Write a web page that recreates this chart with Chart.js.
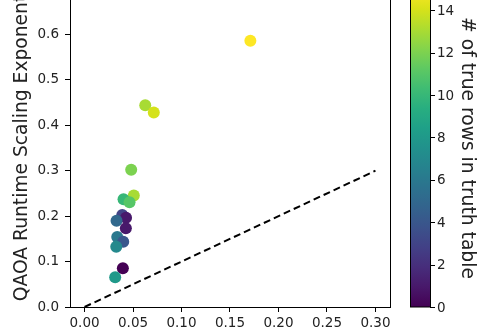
<!DOCTYPE html>
<html lang="en">
  <head>
    <meta charset="UTF-8" />
    <title>QAOA scaling exponent</title>
    <style>
      html, body { margin: 0; padding: 0; background: #fff; }
      #wrap { position: relative; width: 490px; height: 334px; overflow: hidden; }
      #chart { position: absolute; left: 0; top: -30px; }
    </style>
  </head>
  <body>
    <div id="wrap">
      <canvas id="chart" width="490" height="364"></canvas>
    </div>

    <script src="https://cdn.jsdelivr.net/npm/chart.js"></script>
    <script>
      // datos
      var xVals = [0.171, 0.0626, 0.0714, 0.0481, 0.0508, 0.0402, 0.0464, 0.0389,
                   0.0428, 0.0330, 0.0426, 0.0337, 0.0399, 0.0327, 0.0395, 0.0316];
      var yVals = [0.586, 0.444, 0.428, 0.302, 0.2456, 0.2372, 0.2308, 0.2026,
                   0.1965, 0.1901, 0.1733, 0.1542, 0.1438, 0.1328, 0.0852, 0.0654];
      var trueRows = [15, 13, 14, 12, 13, 10, 11, 3, 1, 5, 1, 6, 4, 7, 0, 8];
      var lineX = [0, 0.3];
      var lineY = [0, 0.3];
      var xTicks = [0, 0.05, 0.1, 0.15, 0.2, 0.25, 0.3];
      var yTicks = [0, 0.1, 0.2, 0.3, 0.4, 0.5, 0.6, 0.7];
      var cbTicks = [0, 2, 4, 6, 8, 10, 12, 14];
      var cbMax = 15;

      var viridis = ['#440154', '#48186a', '#472d7b', '#424086', '#3b528b', '#33638d',
                     '#2c728e', '#26828e', '#21918c', '#1fa088', '#28ae80', '#3fbc73',
                     '#5ec962', '#84d44b', '#addc30', '#d8e219', '#fde725'];

      function hexRgb(h) {
        return [parseInt(h.substr(1, 2), 16), parseInt(h.substr(3, 2), 16), parseInt(h.substr(5, 2), 16)];
      }
      function viridisColor(t) {
        t = Math.max(0, Math.min(1, t));
        var f = t * (viridis.length - 1);
        var i = Math.min(Math.floor(f), viridis.length - 2);
        var a = hexRgb(viridis[i]), b = hexRgb(viridis[i + 1]), k = f - i;
        return 'rgb(' + [0, 1, 2].map(function (j) { return Math.round(a[j] + (b[j] - a[j]) * k); }).join(',') + ')';
      }

      var tickFont = { family: 'DejaVu Sans', size: 13.5 };
      var titleFont = { family: 'DejaVu Sans', size: 18.7 };

      // barra de color y borde derecho
      var colorbarPlugin = {
        id: 'colorbar',
        afterDraw: function (chart) {
          var ctx = chart.ctx, area = chart.chartArea;
          ctx.save();
          ctx.strokeStyle = '#000';
          ctx.lineWidth = 1;
          ctx.beginPath();
          ctx.moveTo(area.right + 0.5, area.top);
          ctx.lineTo(area.right + 0.5, area.bottom);
          ctx.stroke();

          var x0 = 410, x1 = 430;
          var grad = ctx.createLinearGradient(0, area.bottom, 0, area.top);
          viridis.forEach(function (c, i) { grad.addColorStop(i / (viridis.length - 1), c); });
          ctx.fillStyle = grad;
          ctx.fillRect(x0, area.top, x1 - x0, area.bottom - area.top);
          ctx.strokeRect(x0 + 0.5, area.top, x1 - x0, area.bottom - area.top);

          ctx.fillStyle = '#222';
          ctx.font = tickFont.size + 'px "DejaVu Sans"';
          ctx.textAlign = 'left';
          ctx.textBaseline = 'middle';
          cbTicks.forEach(function (v) {
            var y = area.bottom - (v / cbMax) * (area.bottom - area.top);
            ctx.beginPath();
            ctx.moveTo(x1, Math.round(y) + 0.5);
            ctx.lineTo(x1 + 5, Math.round(y) + 0.5);
            ctx.stroke();
            ctx.fillText(String(v), x1 + 7, y + 1);
          });

          ctx.translate(467, (area.top + area.bottom) / 2);
          ctx.rotate(Math.PI / 2);
          ctx.textAlign = 'center';
          ctx.font = titleFont.size + 'px "DejaVu Sans"';
          ctx.fillText('# of true rows in truth table', 0, 0);
          ctx.restore();
        }
      };

      var ctx = document.getElementById('chart').getContext('2d');
      var chart = new Chart(ctx, {
        type: 'scatter',
        data: {
          datasets: [{
            label: 'circuits',
            data: xVals.map(function (x, i) { return { x: x, y: yVals[i] }; }),
            pointBackgroundColor: trueRows.map(function (v) { return viridisColor(v / cbMax); }),
            pointBorderWidth: 0,
            pointRadius: 6,
            pointHoverRadius: 6
          }, {
            type: 'line',
            label: 'y = x',
            data: lineX.map(function (x, i) { return { x: x, y: lineY[i] }; }),
            borderColor: '#000',
            borderWidth: 2,
            borderDash: [7, 4],
            pointRadius: 0,
            fill: false
          }]
        },
        options: {
          responsive: false,
          animation: false,
          devicePixelRatio: 1,
          layout: { padding: { top: 19, right: 100, left: 0, bottom: 0 } },
          plugins: { legend: { display: false }, tooltip: { enabled: false } },
          scales: {
            x: {
              type: 'linear',
              min: -0.015,
              max: 0.315,
              afterBuildTicks: function (s) { s.ticks = xTicks.map(function (v) { return { value: v }; }); },
              afterFit: function (s) { s.height = 27; },
              ticks: { color: '#222', font: tickFont, padding: 3, maxRotation: 0,
                       callback: function (v) { return v.toFixed(2); } },
              grid: { drawOnChartArea: false, tickLength: 5, tickColor: '#000' },
              border: { color: '#000', width: 1 }
            },
            y: {
              type: 'linear',
              min: 0,
              max: 0.7,
              afterBuildTicks: function (s) { s.ticks = yTicks.map(function (v) { return { value: v }; }); },
              afterFit: function (s) { s.width = 70; },
              ticks: { color: '#222', font: tickFont, padding: 6,
                       callback: function (v) { return v.toFixed(1); } },
              grid: { drawOnChartArea: false, tickLength: 5, tickColor: '#000' },
              border: { color: '#000', width: 1 },
              title: { display: true, text: 'QAOA Runtime Scaling Exponent', color: '#222',
                       font: titleFont, padding: { top: 11, bottom: 0 } }
            }
          }
        },
        plugins: [colorbarPlugin]
      });
    </script>
  </body>
</html>
